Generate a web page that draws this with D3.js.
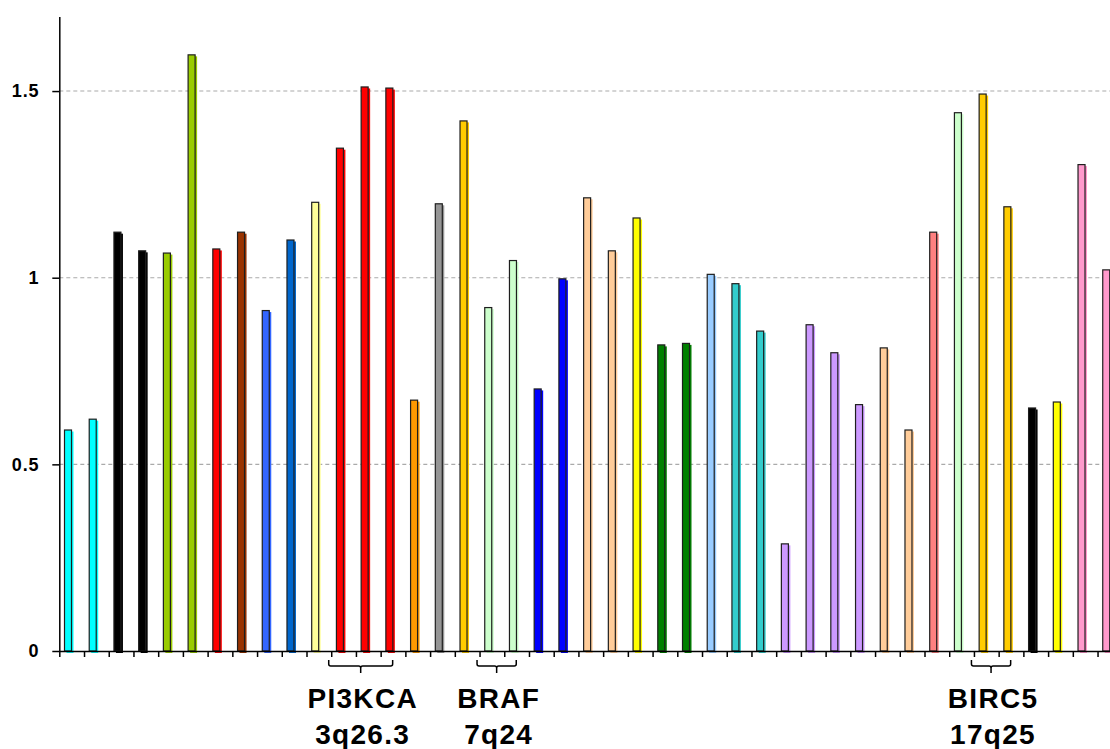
<!DOCTYPE html>
<html>
<head>
<meta charset="utf-8">
<script src="https://cdn.jsdelivr.net/npm/d3@7"></script>
<style>
  html, body { margin: 0; padding: 0; background: #fff; }
  svg { display: block; font-family: "Liberation Sans", Arial, Helvetica, sans-serif; }
</style>
</head>
<body>
<svg id="chart" width="1110" height="749"></svg>
<script>
// ---- data ----
const categories = ["1","2","3","4","5","6","7","8","9","10","11","12","13","14","15","16","17","18","19","20","21","22","23","24","25","26","27","28","29","30","31","32","33","34","35","36","37","38","39","40","41","42","43"];
const values = [0.592, 0.621, 1.122, 1.072, 1.066, 1.597, 1.077, 1.122, 0.912, 1.101,
                1.202, 1.347, 1.511, 1.508, 0.672, 1.198, 1.420, 0.920, 1.046, 0.702,
                0.997, 1.214, 1.072, 1.160, 0.820, 0.824, 1.009, 0.984, 0.857, 0.287,
                0.874, 0.799, 0.660, 0.812, 0.592, 1.122, 1.442, 1.492, 1.190, 0.651,
                0.667, 1.303, 1.021];
const colors = ["#00FFFF","#00FFFF","#000000","#000000","#99CC00","#99CC00","#FF0000","#993300","#3366FF","#0066CC",
                "#FFFF99","#FF0000","#FF0000","#FF0000","#FF9900","#969696","#FFCC00","#CCFFCC","#CCFFCC","#0000FF",
                "#0000FF","#FFCC99","#FFCC99","#FFFF00","#008000","#008000","#99CCFF","#33CCCC","#33CCCC","#CC99FF",
                "#CC99FF","#CC99FF","#CC99FF","#FFCC99","#FFCC99","#FF8080","#CCFFCC","#FFCC00","#FFCC00","#000000",
                "#FFFF00","#FF99CC","#FF99CC"];
const yTicks = [0, 0.5, 1, 1.5];
const groupLabels = ["PI3KCA", "BRAF", "BIRC5"];
const groupLoci = ["3q26.3", "7q24", "17q25"];
const groupFrom = ["12", "18", "38"];
const groupTo = ["14", "19", "39"];

// ---- layout ----
const W = 1110, H = 749;
const left = 59.3, band = 24.72, y0 = 651, yTop = 16.4;
const svg = d3.select("#chart");

const x = d3.scaleBand().domain(categories).range([left, left + categories.length * band]).padding(0);
const xi = d3.scaleLinear().domain([0, categories.length]).range([left, left + categories.length * band]);
const y = d3.scaleLinear().domain([0, 1.7]).range([y0, yTop]);

// gridlines
svg.append("g").selectAll("line").data(yTicks.filter(d => d > 0)).join("line")
  .attr("x1", left).attr("x2", W + 20)
  .attr("y1", d => y(d)).attr("y2", d => y(d))
  .attr("stroke", "#aaaaaa").attr("stroke-width", 1.1).attr("stroke-dasharray", "4,3");

// bars
const barW = 7, off = 5.2;
const bars = svg.append("g");
categories.forEach((c, i) => {
  const v = values[i];
  bars.append("rect")
    .attr("x", x(c) + off + 2).attr("y", y(v) + 1.5)
    .attr("width", barW).attr("height", y(0) - y(v) + 0.5)
    .attr("fill", colors[i]);
  bars.append("rect")
    .attr("x", x(c) + off).attr("y", y(v))
    .attr("width", barW).attr("height", y(0) - y(v))
    .attr("fill", colors[i]).attr("stroke", "#1e1e1e").attr("stroke-width", 1.2);
});

// x axis
const xAxis = svg.append("g").attr("transform", `translate(0,${y0})`)
  .call(d3.axisBottom(xi).tickValues(d3.range(0, categories.length + 1)).tickSize(6).tickSizeOuter(0).tickFormat(""));
xAxis.select(".domain").attr("stroke", "#000").attr("stroke-width", 1.5);
xAxis.selectAll(".tick line").attr("stroke", "#000").attr("stroke-width", 1.5);

// y axis
const yAxis = svg.append("g").attr("transform", `translate(${left},0)`)
  .call(d3.axisLeft(y).tickValues(yTicks).tickSize(7).tickSizeOuter(0).tickPadding(13).tickFormat(d => String(d)));
yAxis.select(".domain").attr("stroke", "#000").attr("stroke-width", 1.5);
yAxis.selectAll(".tick line").attr("stroke", "#000").attr("stroke-width", 1.5);
yAxis.selectAll(".tick text")
  .attr("font-family", "'Liberation Sans', Arial, sans-serif")
  .attr("font-size", 18).attr("font-weight", "bold").attr("fill", "#000")
  .attr("letter-spacing", "0.8px");

// group brackets and labels
const gb = svg.append("g");
groupLabels.forEach((lab, k) => {
  const l = x(groupFrom[k]) - 2.5;
  const r = x(groupTo[k]) + 12;
  const m = (l + r) / 2;
  const top = 660, bot = 666, tip = 673;
  gb.append("path")
    .attr("d", `M${l},${top} L${l},${bot - 2} Q${l},${bot} ${l + 2},${bot} L${m - 2},${bot} Q${m},${bot} ${m},${bot + 2} L${m},${tip} M${m},${bot + 2} Q${m},${bot} ${m + 2},${bot} L${r - 2},${bot} Q${r},${bot} ${r},${bot - 2} L${r},${top}`)
    .attr("fill", "none").attr("stroke", "#000").attr("stroke-width", 1.5);
  gb.append("text").attr("x", m + 2).attr("y", 708)
    .attr("text-anchor", "middle").attr("font-size", 28).attr("font-weight", "bold")
    .attr("letter-spacing", "1.3px").attr("fill", "#000").text(lab);
  gb.append("text").attr("x", m + 2).attr("y", 744)
    .attr("text-anchor", "middle").attr("font-size", 28).attr("font-weight", "bold")
    .attr("letter-spacing", "1.3px").attr("fill", "#000").text(groupLoci[k]);
});
</script>
</body>
</html>
